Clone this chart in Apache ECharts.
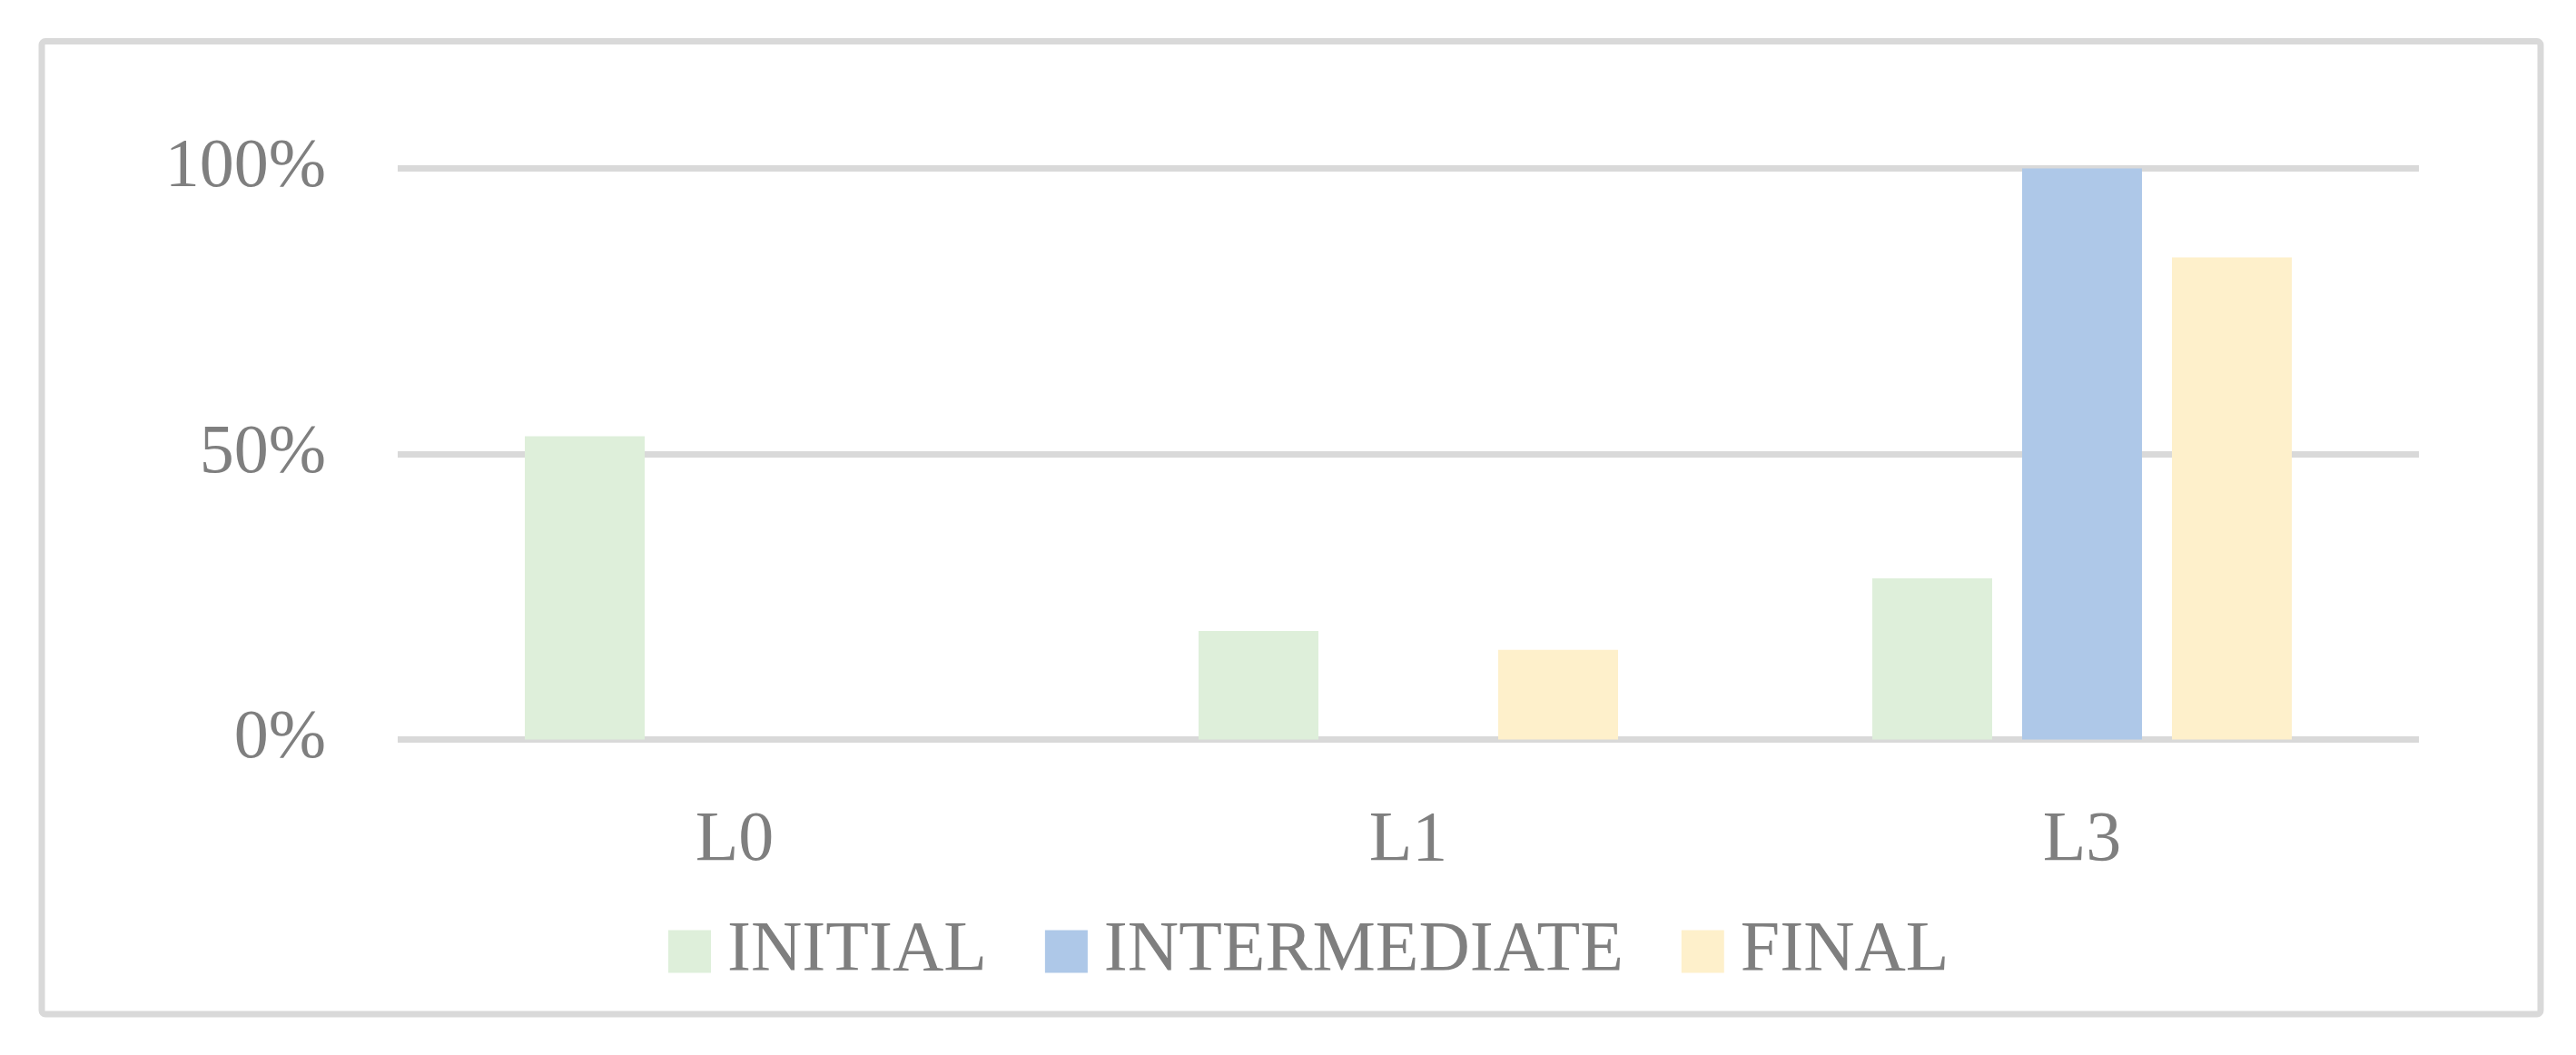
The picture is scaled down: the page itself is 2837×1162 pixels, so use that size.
<!DOCTYPE html>
<html>
<head>
<meta charset="utf-8">
<script src="https://cdn.jsdelivr.net/npm/echarts@6/dist/echarts.min.js"></script>
<style>
html,body{margin:0;padding:0;background:#fff;}
#chart{width:2837px;height:1162px;}
</style>
</head>
<body>
<div id="chart"></div>
<script>
const categories = ['L0', 'L1', 'L3'];
const seriesNames = ['INITIAL', 'INTERMEDIATE', 'FINAL'];
const initialValues = [53.1, 19.0, 28.2];
const intermediateValues = [0, 0, 100];
const finalValues = [0, 15.7, 84.4];
const yTicks = [0, 50, 100];

const colors = ['#DEEFDA', '#AEC8E8', '#FEF0CB'];
const textColor = '#7f7f7f';
const fontFamily = '"Liberation Serif", "Times New Roman", serif';

const chart = echarts.init(document.getElementById('chart'), null, {renderer: 'canvas'});
const valuesList = [initialValues, intermediateValues, finalValues];

chart.setOption({
  backgroundColor: '#ffffff',
  animation: false,
  graphic: [{
    type: 'rect',
    shape: {x: 46, y: 45.5, width: 2752, height: 1071.5, r: 4},
    style: {fill: 'none', stroke: '#d9d9d9', lineWidth: 7},
    silent: true, z: -1
  }],
  grid: {left: 438, right: 173, top: 185.5, bottom: 347.5, containLabel: false},
  legend: {
    data: seriesNames,
    left: 731,
    top: 1004,
    itemWidth: 47,
    itemHeight: 47,
    itemGap: 64,
    icon: 'rect',
    textStyle: {color: textColor, fontFamily: fontFamily, fontSize: 78, padding: [0, 0, 0, 13]}
  },
  xAxis: {
    type: 'category',
    data: categories,
    axisLine: {show: false},
    axisTick: {show: false},
    axisLabel: {color: textColor, fontFamily: fontFamily, fontSize: 78, margin: 73}
  },
  yAxis: {
    type: 'value',
    min: yTicks[0],
    max: yTicks[yTicks.length - 1],
    interval: yTicks[1] - yTicks[0],
    axisLine: {show: false},
    axisTick: {show: false},
    splitLine: {lineStyle: {color: '#d9d9d9', width: 7}},
    axisLabel: {color: textColor, fontFamily: fontFamily, fontSize: 76, margin: 79, formatter: '{value}%'}
  },
  series: seriesNames.map((name, i) => ({
    name: name,
    type: 'bar',
    data: valuesList[i],
    barWidth: 132,
    barGap: '25%',
    itemStyle: {color: colors[i]}
  }))
});
</script>
</body>
</html>
